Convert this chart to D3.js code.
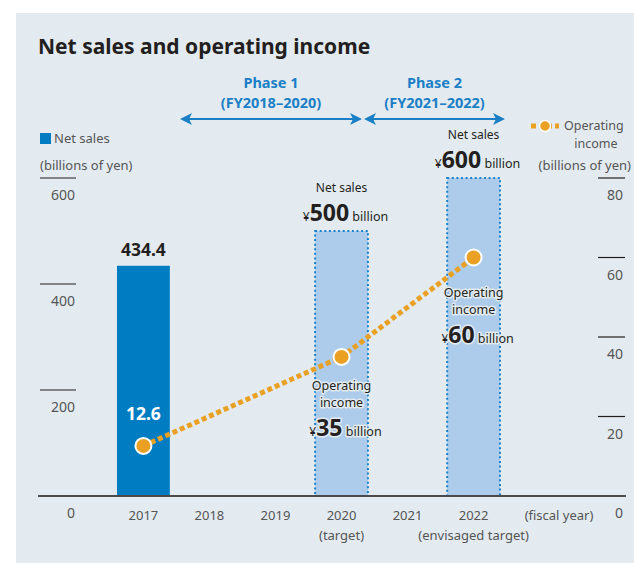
<!DOCTYPE html>
<html><head><meta charset="utf-8">
<script src="https://cdn.jsdelivr.net/npm/d3@7/dist/d3.min.js"></script>
<style>body{margin:0;background:#fff}svg{display:block}text{font-family:"Noto Sans",sans-serif}</style>
</head><body>
<script>
const years = ["2017","2018","2019","2020","2021","2022"];
const yearNotes = {"2020":"(target)","2022":"(envisaged target)"};
const salesYears = ["2017","2020","2022"];
const salesValues = [434.4, 500, 600];
const salesIsTarget = [false, true, true];
const incomeYears = ["2017","2020","2022"];
const incomeValues = [12.6, 35, 60];
const leftTicks = [0, 200, 400, 600];
const rightTicks = [0, 20, 40, 60, 80];
const phases = [{name:"Phase 1", range:"(FY2018–2020)", x1:180, x2:362},
                {name:"Phase 2", range:"(FY2021–2022)", x1:364, x2:505}];

const W=634,H=563;
const svg=d3.select("body").append("svg").attr("width",W).attr("height",H);
const BG="#e3ebf1", BLUE="#007cc3", LBLUE="#adcbea", ORANGE="#e9a023", DARK="#231f20", GREY="#555";
svg.append("rect").attr("x",16).attr("y",13).attr("width",W-16).attr("height",H-13).attr("fill",BG);

svg.append("text").attr("x",38).attr("y",54).attr("font-size",21).attr("font-weight","bold").attr("fill",DARK)
  .text("Net sales and operating income");

const x=d3.scaleBand().domain(years).range([117,500]).paddingInner(0.2).paddingOuter(0);
const yL=d3.scaleLinear().domain([0,600]).range([496,178]);
const yR=d3.scaleLinear().domain([0,80]).range([496,178]);
const cx=d=>x(d)+x.bandwidth()/2;

// left ticks
leftTicks.forEach(t=>{
  if(t>0) svg.append("line").attr("x1",40).attr("x2",76).attr("y1",yL(t)).attr("y2",yL(t)).attr("stroke",DARK).attr("stroke-width",1.2);
  svg.append("text").attr("x",75).attr("y",yL(t)+22).attr("text-anchor","end").attr("font-size",14).attr("fill",GREY).text(t);
});
rightTicks.forEach(t=>{
  if(t>0) svg.append("line").attr("x1",598).attr("x2",625).attr("y1",yR(t)).attr("y2",yR(t)).attr("stroke",DARK).attr("stroke-width",1.2);
  svg.append("text").attr("x",623).attr("y",yR(t)+22).attr("text-anchor","end").attr("font-size",14).attr("fill",GREY).text(t);
});

// bars
salesYears.forEach((yr,i)=>{
  const v=salesValues[i];
  const r=svg.append("rect").attr("x",x(yr)).attr("y",yL(v)).attr("width",x.bandwidth()).attr("height",yL(0)-yL(v));
  if(salesIsTarget[i]) r.attr("fill",LBLUE).attr("stroke","#1b82cc").attr("stroke-width",2).attr("stroke-dasharray","2,2.6");
  else r.attr("fill",BLUE);
});

// baseline
svg.append("line").attr("x1",38).attr("x2",626).attr("y1",496).attr("y2",496).attr("stroke","#4a4a4a").attr("stroke-width",2);

// x labels
years.forEach(yr=>{
  svg.append("text").attr("x",cx(yr)).attr("y",520).attr("text-anchor","middle").attr("font-size",13).attr("fill",GREY).text(yr);
  if(yearNotes[yr]) svg.append("text").attr("x",cx(yr)).attr("y",540).attr("text-anchor","middle").attr("font-size",13).attr("fill",GREY).text(yearNotes[yr]);
});
svg.append("text").attr("x",559).attr("y",520).attr("text-anchor","middle").attr("font-size",13).attr("fill",GREY).text("(fiscal year)");

// line
const line=d3.line().x((d,i)=>cx(incomeYears[i])).y(d=>yR(d));
svg.append("path").datum(incomeValues).attr("d",line).attr("fill","none").attr("stroke",ORANGE).attr("stroke-width",5).attr("stroke-dasharray","5,3");

function label(g, cxv, y, parts, anchor, halo){
  const t=g.append("text").attr("x",cxv).attr("y",y).attr("text-anchor",anchor||"middle").attr("fill",DARK);
  if(halo){t.attr("stroke",halo).attr("stroke-width",3).attr("paint-order","stroke").attr("stroke-linejoin","round");}
  parts.forEach(p=>{t.append("tspan").attr("font-size",p[1]).attr("font-weight",p[2]||"normal").text(p[0]);});
  return t;
}
const g=svg.append("g");
label(g,cx("2017"),yL(434.4)-10,[["434.4",17.5,"bold"]]);
label(g,cx("2017"),420,[["12.6",17.5,"bold"]]).attr("fill","#fff");
[["2020",1],["2022",2]].forEach(([yr,i])=>{
  const top=yL(salesValues[i]);
  label(g,cx(yr),top-39,[["Net sales",12]]);
  label(g,cx(yr)+4,top-10,[["¥",12],[String(salesValues[i]),23,"bold"],[" billion",12.5]]);
});
[["2020",1,395],["2022",2,302]].forEach(([yr,i,yy])=>{
  label(g,cx(yr),yy-5,[["Operating",12.5]],"middle",BG);
  label(g,cx(yr),yy+12,[["income",12.5]],"middle",BG);
  label(g,cx(yr)+4,yy+41,[["¥",12],[String(incomeValues[i]),23,"bold"],[" billion",12.5]],"middle",BG);
});

incomeValues.forEach((v,i)=>{
  svg.append("circle").attr("cx",cx(incomeYears[i])).attr("cy",yR(v)).attr("r",8).attr("fill",ORANGE).attr("stroke","#fff").attr("stroke-width",2);
});

const PB="#1b7fc6";
phases.forEach(p=>{
  const x1=p.x1, x2=p.x2;
  svg.append("text").attr("x",(x1+x2)/2).attr("y",88).attr("text-anchor","middle").attr("font-size",14.5).attr("font-weight","bold").attr("fill",PB).text(p.name);
  svg.append("text").attr("x",(x1+x2)/2).attr("y",108).attr("text-anchor","middle").attr("font-size",14.5).attr("font-weight","bold").attr("fill",PB).text(p.range);
  svg.append("line").attr("x1",x1+8).attr("x2",x2-8).attr("y1",119).attr("y2",119).attr("stroke",PB).attr("stroke-width",2);
  svg.append("path").attr("d",`M${x1},119 L${x1+12},113 L${x1+9},119 L${x1+12},125 Z`).attr("fill",PB);
  svg.append("path").attr("d",`M${x2},119 L${x2-12},113 L${x2-9},119 L${x2-12},125 Z`).attr("fill",PB);
});

svg.append("rect").attr("x",40).attr("y",133).attr("width",11).attr("height",11).attr("fill",BLUE);
svg.append("text").attr("x",54).attr("y",143).attr("font-size",13).attr("fill",GREY).text("Net sales");
svg.append("text").attr("x",40).attr("y",170).attr("font-size",13).attr("fill",GREY).text("(billions of yen)");
svg.append("line").attr("x1",531).attr("x2",559).attr("y1",126).attr("y2",126).attr("stroke",ORANGE).attr("stroke-width",5).attr("stroke-dasharray","5,3");
svg.append("circle").attr("cx",545).attr("cy",126).attr("r",5.5).attr("fill",ORANGE).attr("stroke","#fff").attr("stroke-width",1.5);
svg.append("text").attr("x",564).attr("y",130).attr("font-size",12.5).attr("fill",GREY).text("Operating");
svg.append("text").attr("x",596).attr("y",148).attr("text-anchor","middle").attr("font-size",12.5).attr("fill",GREY).text("income");
svg.append("text").attr("x",631).attr("y",170).attr("text-anchor","end").attr("font-size",13).attr("fill",GREY).text("(billions of yen)");
</script>
</body></html>
